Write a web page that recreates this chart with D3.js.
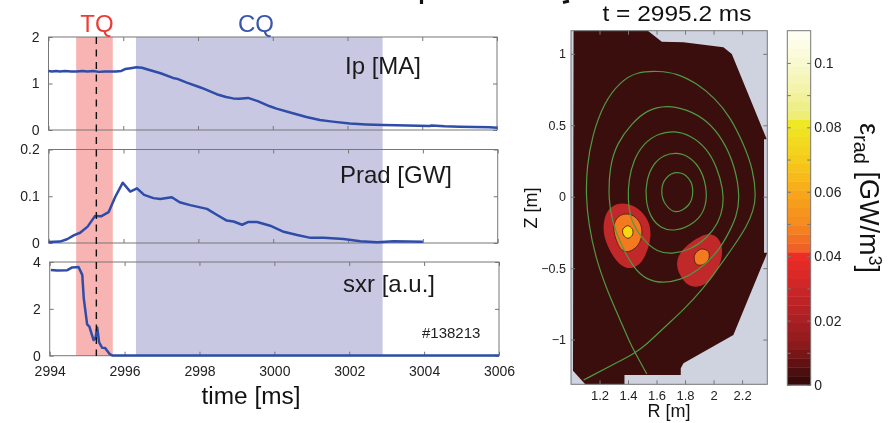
<!DOCTYPE html>
<html>
<head>
<meta charset="utf-8">
<script src="https://cdn.jsdelivr.net/npm/d3@7"></script>
<style>
html,body{margin:0;padding:0;background:#fff;overflow:hidden}
svg{display:block;font-family:"Liberation Sans",Arial,sans-serif;filter:blur(0.35px)}
</style>
</head>
<body>
<svg id="chart" width="892" height="423"></svg>
<script>
// time traces
var ipTime = [2994,2994.1,2994.2,2994.3,2994.45,2994.6,2994.75,2994.9,2995.05,2995.2,2995.35,2995.5,2995.65,2995.8,2995.95,2996.05,2996.2,2996.35,2996.5,2996.7,2997,2997.33,2997.45,2997.7,2998.05,2998.15,2998.5,2998.75,2998.94,2999.1,2999.34,2999.6,2999.92,3000.1,3000.54,3000.9,3001.26,3001.6,3002.06,3002.5,3002.95,3003.3,3003.6,3004.2,3004.25,3004.6,3005,3005.4,3005.8,3006];
var ipValue = [1.27,1.26,1.27,1.26,1.27,1.26,1.26,1.27,1.26,1.27,1.25,1.26,1.26,1.26,1.27,1.31,1.33,1.35,1.34,1.29,1.22,1.12,1.1,1.02,0.92,0.89,0.77,0.71,0.68,0.67,0.69,0.62,0.51,0.46,0.36,0.28,0.215,0.18,0.14,0.12,0.107,0.1,0.095,0.085,0.095,0.08,0.07,0.065,0.06,0.05];

var pradTime = [2994,2994.3,2994.49,2994.68,2994.84,2995.04,2995.24,2995.4,2995.6,2995.78,2995.98,2996.18,2996.36,2996.55,2996.8,2996.98,2997.29,2997.5,2997.78,2998.23,2998.5,2998.76,2998.94,2999.17,2999.34,2999.57,2999.92,3000.28,3000.64,3001,3001.35,3001.88,3002.33,3002.78,3003.22,3004];
var pradValue = [0.002,0.003,0.008,0.017,0.022,0.035,0.058,0.057,0.066,0.099,0.129,0.11,0.117,0.103,0.096,0.094,0.098,0.087,0.081,0.073,0.06,0.048,0.046,0.039,0.045,0.045,0.037,0.024,0.017,0.011,0.011,0.0085,0.0036,0.0015,0.0036,0.0026];

var sxrTime = [2994.03,2994.2,2994.47,2994.6,2994.77,2994.87,2994.91,2995,2995.06,2995.17,2995.22,2995.27,2995.32,2995.4,2995.48,2995.6,2995.67,3000,3006];
var sxrValue = [3.66,3.64,3.65,3.77,3.79,3.45,2.45,1.34,1.24,0.67,0.74,1.2,0.57,0.34,0.33,0.07,0.01,0.01,0.01];

var timeTicks = [2994,2996,2998,3000,3002,3004,3006];
var ipTicks = [0,1,2], pradTicks = [0,0.1,0.2], sxrTicks = [0,2,4];
var tqSpan = [2994.74,2995.72], cqSpan = [2996.34,3002.94], markTime = 2995.28;

// equilibrium map, [R,Z] in metres
var rTicks = [1.2,1.4,1.6,1.8,2,2.2], zTicks = [-1,-0.5,0,0.5,1];
var vessel = [[1.018,1.162],[1.539,1.162],[1.637,1.085],[1.789,1.081],[2.069,1.046],[2.128,0.999],[2.373,0.402],[2.354,0.402],[2.354,-0.392],[2.377,-0.392],[2.139,-0.968],[1.789,-1.166],[1.77,-1.201],[1.77,-1.248],[1.375,-1.248],[1.375,-1.313],[1.1,-1.313],[1.014,-1.218]];

var flux1 = [[1.747,0.168],[1.824,0.129],[1.854,0.042],[1.824,-0.058],[1.737,-0.105],[1.667,-0.058],[1.637,0.042],[1.667,0.129]];
var flux2 = [[1.742,0.311],[1.836,0.28],[1.918,0.187],[1.957,0.036],[1.941,-0.093],[1.871,-0.186],[1.73,-0.245],[1.626,-0.221],[1.555,-0.14],[1.523,-0.023],[1.527,0.117],[1.579,0.234],[1.649,0.292]];
var flux3 = [[1.724,0.462],[1.836,0.432],[1.953,0.339],[2.023,0.21],[2.069,0.047],[2.069,-0.07],[2.034,-0.186],[1.953,-0.291],[1.836,-0.373],[1.707,-0.403],[1.602,-0.385],[1.52,-0.315],[1.45,-0.221],[1.415,-0.14],[1.399,-0.023],[1.404,0.117],[1.439,0.257],[1.509,0.374],[1.614,0.444]];
var flux4 = [[1.672,0.642],[1.812,0.612],[1.953,0.537],[2.069,0.397],[2.151,0.21],[2.186,0],[2.163,-0.14],[2.093,-0.28],[2.023,-0.396],[1.883,-0.525],[1.766,-0.583],[1.649,-0.606],[1.532,-0.583],[1.439,-0.501],[1.345,-0.326],[1.287,-0.163],[1.263,-0.023],[1.27,0.21],[1.322,0.374],[1.427,0.514],[1.532,0.607]];
var separatrix = [[1.088,-1.283],[1.345,-1.15],[1.45,-1.092],[1.52,-1.043],[1.672,-0.898],[1.789,-0.793],[1.929,-0.641],[2.023,-0.513],[2.139,-0.35],[2.233,-0.21],[2.28,-0.093],[2.298,0],[2.279,0.187],[2.209,0.374],[2.116,0.56],[2.011,0.689],[1.882,0.794],[1.742,0.864],[1.614,0.88],[1.462,0.875],[1.345,0.805],[1.228,0.654],[1.147,0.42],[1.111,0.21],[1.105,0],[1.123,-0.186],[1.17,-0.42],[1.252,-0.653],[1.345,-0.863],[1.415,-1.026],[1.45,-1.092],[1.532,-1.241]];

var leftOuter = [[1.357,-0.042],[1.439,-0.058],[1.509,-0.116],[1.551,-0.186],[1.562,-0.268],[1.544,-0.361],[1.497,-0.466],[1.439,-0.501],[1.38,-0.501],[1.322,-0.455],[1.275,-0.385],[1.233,-0.291],[1.224,-0.198],[1.247,-0.105],[1.298,-0.058]];
var leftMid = [[1.38,-0.116],[1.439,-0.128],[1.485,-0.175],[1.504,-0.245],[1.485,-0.326],[1.439,-0.373],[1.387,-0.392],[1.345,-0.368],[1.317,-0.303],[1.298,-0.245],[1.303,-0.175],[1.333,-0.135]];
var leftCore = [[1.399,-0.203],[1.431,-0.228],[1.431,-0.268],[1.399,-0.291],[1.368,-0.268],[1.364,-0.228]];
var rightOuter = [[1.952,-0.256],[2.011,-0.268],[2.051,-0.315],[2.065,-0.385],[2.046,-0.478],[1.999,-0.56],[1.941,-0.618],[1.871,-0.637],[1.812,-0.618],[1.761,-0.548],[1.738,-0.478],[1.754,-0.408],[1.801,-0.35],[1.882,-0.291]];
var rightMid = [[1.918,-0.366],[1.964,-0.385],[1.964,-0.443],[1.918,-0.478],[1.878,-0.471],[1.864,-0.42],[1.883,-0.385]];

// colour bar
var barStops = [0,0.006,0.012,0.02,0.03,0.041,0.0413,0.05,0.06,0.07,0.082,0.0826,0.09,0.1,0.11];
var barColors = ['#2e0808','#5a1010','#8a1a1c','#a82024','#cc2628','#ee2e26','#ef5a28','#f58a20','#f8a81a','#f5cc1c','#eeea25','#ecec6e','#f2f2a0','#f9f9d0','#fffff8'];
var barTicks = [0,0.01,0.02,0.03,0.04,0.05,0.06,0.07,0.08,0.09,0.1];
var barLabels = [0,0.02,0.04,0.06,0.08,0.1];

var svg = d3.select('#chart');
var blue = '#2f4ca8', frameColor = '#777', textColor = '#222', fluxColor = '#4f9a42';
var fmt = d3.format('~g');

function styleAxis(g){
    g.select('.domain').remove();
    g.selectAll('line').attr('stroke', frameColor);
    g.selectAll('text').attr('fill', textColor).style('font-family', 'inherit');
}

var panels = [
    {time: ipTime, value: ipValue, ticks: ipTicks, x: [48.5,497], y: [130,37], yTop: 2, label: 'Ip [MA]', lx: 345, ly: 74},
    {time: pradTime, value: pradValue, ticks: pradTicks, x: [48.7,497.7], y: [243,149.5], yTop: 0.2, label: 'Prad [GW]', lx: 340, ly: 183},
    {time: sxrTime, value: sxrValue, ticks: sxrTicks, x: [49.7,499], y: [355.7,262], yTop: 4, label: 'sxr [a.u.]', lx: 343, ly: 292}
];

var xMain = d3.scaleLinear().domain([2994,3006]).range(panels[0].x);

// shaded phases run through all three panels
svg.append('rect').attr('x', xMain(tqSpan[0])).attr('y', 37)
    .attr('width', xMain(tqSpan[1]) - xMain(tqSpan[0])).attr('height', 318.7).attr('fill', '#f7b4b2');
svg.append('rect').attr('x', xMain(cqSpan[0])).attr('y', 37)
    .attr('width', xMain(cqSpan[1]) - xMain(cqSpan[0])).attr('height', 318.7).attr('fill', '#c8c8e3');

panels.forEach(function(p, i){
    var x = d3.scaleLinear().domain([2994,3006]).range(p.x);
    var y = d3.scaleLinear().domain([0,p.yTop]).range(p.y);
    var isLast = i == panels.length - 1;

    svg.append('g').attr('transform', `translate(0,${p.y[0]})`)
        .call(d3.axisBottom(x).tickValues(timeTicks).tickFormat(isLast ? function(d){ return d } : '').tickSizeInner(-4).tickSizeOuter(0).tickPadding(10))
        .call(styleAxis).attr('font-size', 14);
    svg.append('g').attr('transform', `translate(0,${p.y[1]})`)
        .call(d3.axisTop(x).tickValues(timeTicks).tickFormat('').tickSizeInner(-4).tickSizeOuter(0))
        .call(styleAxis);
    svg.append('g').attr('transform', `translate(${p.x[0]},0)`)
        .call(d3.axisLeft(y).tickValues(p.ticks).tickFormat(fmt).tickSizeInner(-4).tickSizeOuter(0).tickPadding(9))
        .call(styleAxis).attr('font-size', 14);
    svg.append('g').attr('transform', `translate(${p.x[1]},0)`)
        .call(d3.axisRight(y).tickValues(p.ticks).tickFormat('').tickSizeInner(-4).tickSizeOuter(0))
        .call(styleAxis);

    svg.append('rect').attr('x', p.x[0]).attr('y', p.y[1])
        .attr('width', p.x[1] - p.x[0]).attr('height', p.y[0] - p.y[1])
        .attr('fill', 'none').attr('stroke', frameColor).attr('stroke-width', 1);

    var line = d3.line().x(function(d){ return x(d[0]) }).y(function(d){ return y(d[1]) });
    svg.append('path').attr('d', line(d3.zip(p.time, p.value)))
        .attr('fill', 'none').attr('stroke', blue)
        .attr('stroke-width', 2.5).attr('stroke-linejoin', 'round');

    svg.append('text').attr('x', p.lx).attr('y', p.ly).attr('font-size', 24).attr('fill', '#1a1a1a').text(p.label);
});

svg.append('line').attr('x1', xMain(markTime)).attr('x2', xMain(markTime)).attr('y1', 37).attr('y2', 356)
    .attr('stroke', '#111').attr('stroke-width', 1.4).attr('stroke-dasharray', '7,5.5');

svg.append('text').attr('x', 97).attr('y', 32).attr('text-anchor', 'middle').attr('font-size', 24).attr('fill', '#ee3b33').text('TQ');
svg.append('text').attr('x', 256).attr('y', 32).attr('text-anchor', 'middle').attr('font-size', 24).attr('fill', '#3a55ac').text('CQ');
svg.append('text').attr('x', 422).attr('y', 338.3).attr('font-size', 15).attr('fill', '#222').text('#138213');
svg.append('text').attr('x', 251).attr('y', 404).attr('text-anchor', 'middle').attr('font-size', 24.4).attr('fill', '#111').text('time [ms]');

// bits of the cropped headline still showing at the top edge
svg.append('line').attr('x1', 421.5).attr('x2', 421.5).attr('y1', 0).attr('y2', 4).attr('stroke', '#111').attr('stroke-width', 3.2);
svg.append('line').attr('x1', 563).attr('x2', 569).attr('y1', 2.5).attr('y2', 1).attr('stroke', '#111').attr('stroke-width', 3);

// emissivity map
var mapLeft = 571, mapRight = 767.3, mapTop = 30.7, mapBottom = 384.3;
var rScale = d3.scaleLinear().domain([1.0,2.377]).range([mapLeft,mapRight]);
var zScale = d3.scaleLinear().domain([-1.313,1.162]).range([mapBottom,mapTop]);
var barScale = d3.scaleLinear().domain([0,0.11]).range([385,30.7]);
var barColor = d3.scaleLinear().domain(barStops).range(barColors);

svg.append('rect').attr('x', mapLeft).attr('y', mapTop).attr('width', mapRight - mapLeft).attr('height', mapBottom - mapTop).attr('fill', '#cfd2df');

function mapLine(curve){
    return d3.line().x(function(d){ return rScale(d[0]) }).y(function(d){ return zScale(d[1]) }).curve(curve);
}
var roundLine = mapLine(d3.curveCatmullRomClosed.alpha(0.5));
var smoothLine = mapLine(d3.curveBasisClosed);
var polyLine = mapLine(d3.curveLinearClosed);
var openLine = mapLine(d3.curveBasis);

svg.append('path').attr('d', polyLine(vessel)).attr('fill', '#3b0e0e');

svg.append('path').attr('d', smoothLine(leftOuter)).attr('fill', '#c1282a');
svg.append('path').attr('d', smoothLine(rightOuter)).attr('fill', '#c1282a');
[[smoothLine(leftMid),'#f47a20'],[roundLine(rightMid),'#f47a20'],[roundLine(leftCore),'#f6d810']].forEach(function(b){
    svg.append('path').attr('d', b[0]).attr('fill', b[1]).attr('stroke', '#5a1c10').attr('stroke-width', 0.9);
});

svg.append('path').attr('d', roundLine(flux1)).attr('fill', 'none').attr('stroke', fluxColor).attr('stroke-width', 1.2);
[flux2,flux3,flux4].forEach(function(c){
    svg.append('path').attr('d', smoothLine(c)).attr('fill', 'none').attr('stroke', fluxColor).attr('stroke-width', 1.2);
});
svg.append('path').attr('d', openLine(separatrix)).attr('fill', 'none').attr('stroke', fluxColor).attr('stroke-width', 1.2);

svg.append('g').attr('transform', `translate(0,${mapBottom})`)
    .call(d3.axisBottom(rScale).tickValues(rTicks).tickFormat(fmt).tickSizeInner(-4).tickSizeOuter(0).tickPadding(6))
    .call(styleAxis).attr('font-size', 13);
svg.append('g').attr('transform', `translate(0,${mapTop})`)
    .call(d3.axisTop(rScale).tickValues(rTicks).tickFormat('').tickSizeInner(-4).tickSizeOuter(0))
    .call(styleAxis);
svg.append('g').attr('transform', `translate(${mapLeft},0)`)
    .call(d3.axisLeft(zScale).tickValues(zTicks).tickFormat(fmt).tickSizeInner(-4).tickSizeOuter(0).tickPadding(5))
    .call(styleAxis).attr('font-size', 12.5);
svg.append('g').attr('transform', `translate(${mapRight},0)`)
    .call(d3.axisRight(zScale).tickValues(zTicks).tickFormat('').tickSizeInner(-4).tickSizeOuter(0))
    .call(styleAxis);
svg.append('rect').attr('x', mapLeft).attr('y', mapTop).attr('width', mapRight - mapLeft).attr('height', mapBottom - mapTop)
    .attr('fill', 'none').attr('stroke', frameColor).attr('stroke-width', 1);

svg.append('text').attr('x', 677).attr('y', 20.5).attr('text-anchor', 'middle').attr('font-size', 22.5)
    .attr('textLength', 149).attr('lengthAdjust', 'spacingAndGlyphs').attr('fill', '#111').text('t = 2995.2 ms');
svg.append('text').attr('x', 669).attr('y', 417).attr('text-anchor', 'middle').attr('font-size', 18).attr('fill', '#111').text('R [m]');
svg.append('text').attr('transform', 'translate(537,208) rotate(-90)').attr('text-anchor', 'middle').attr('font-size', 18).attr('fill', '#111').text('Z [m]');

// colour bar, stepped like the original
var barLeft = 787.3, barRight = 810.7, step = 0.11 / 40;
svg.append('g').selectAll('rect')
    .data(d3.range(40))
    .join('rect')
    .attr('x', barLeft)
    .attr('width', barRight - barLeft)
    .attr('y', function(d){ return barScale((d + 1) * step) })
    .attr('height', barScale(0) - barScale(step) + 0.4)
    .attr('fill', function(d){ return barColor((d + 0.5) * step) });

svg.append('g').attr('transform', `translate(${barRight},0)`)
    .call(d3.axisRight(barScale).tickValues(barTicks).tickFormat('').tickSizeInner(-3.5).tickSizeOuter(0))
    .call(styleAxis);
svg.append('g').attr('transform', `translate(${barLeft},0)`)
    .call(d3.axisLeft(barScale).tickValues(barTicks).tickFormat('').tickSizeInner(-3.5).tickSizeOuter(0))
    .call(styleAxis);
svg.append('rect').attr('x', barLeft).attr('y', 30.7).attr('width', barRight - barLeft).attr('height', 354.3)
    .attr('fill', 'none').attr('stroke', frameColor).attr('stroke-width', 1);
svg.append('g').selectAll('text')
    .data(barLabels)
    .join('text')
    .attr('x', barRight + 3.5)
    .attr('y', function(d){ return barScale(d) + 5 })
    .attr('font-size', 14)
    .attr('fill', textColor)
    .text(fmt);

var radLabel = svg.append('text').attr('transform', 'translate(860,123) rotate(90)').attr('font-size', 27).attr('fill', '#111');
radLabel.append('tspan').text('ε');
radLabel.append('tspan').attr('font-size', 20).attr('dy', 6).text('rad');
radLabel.append('tspan').attr('dy', -6).text(' [GW/m');
radLabel.append('tspan').attr('font-size', 18).attr('dy', -9).text('3');
radLabel.append('tspan').attr('dy', 9).text(']');
</script>
</body>
</html>
